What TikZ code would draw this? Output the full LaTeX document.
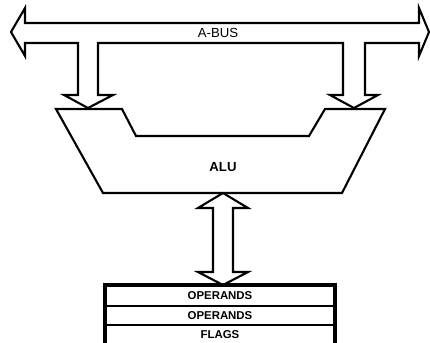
\documentclass[tikz,border=0pt]{standalone}
\usepackage{fontspec}
\setmainfont{Liberation Sans}
\usetikzlibrary{positioning}

\begin{document}
\begin{tikzpicture}[
  x=0.02cm, y=-0.02cm,
  outline/.style={draw, line width=1.2pt, line join=miter, fill=white},
  buslabel/.style={font=\fontsize{7.5}{8}\selectfont},
  unitlabel/.style={font=\fontsize{7.5}{8}\selectfont\bfseries},
  regtext/.style={font=\fontsize{6.5}{7}\selectfont\bfseries}
]
\useasboundingbox[fill=white] (0,0) rectangle (430,342);

% A-bus with its two branches into the ALU
\draw[outline] (11,32) -- (25,8) -- (25,23) -- (419,23) -- (419,8) -- (429,32)
  -- (419,56) -- (419,43) -- (365,43) -- (365,95) -- (378,95) -- (354,108)
  -- (330,95) -- (343,95) -- (343,43) -- (98,43) -- (98,95) -- (113,95)
  -- (88,108) -- (64,95) -- (78,95) -- (78,43) -- (25,43) -- (25,56) -- cycle;
\node[buslabel] (abus) at (218,33) {A-BUS};

% ALU
\draw[outline] (56,109) -- (122,109) -- (136,136) -- (309,136) -- (325,109)
  -- (385,109) -- (342,193) -- (103,193) -- cycle;
\node[unitlabel] (alu) at (223,167) {ALU};

% ALU <-> registers
\draw[outline] (223,193) -- (248,208) -- (233,208) -- (233,272) -- (248,272)
  -- (223,285) -- (198,272) -- (213,272) -- (213,208) -- (198,208) -- cycle;

% register file
\draw[line width=1.8pt] (105,343) -- (105,285) -- (335,285) -- (335,343);
\draw[line width=0.9pt] (105,306) -- (335,306);
\draw[line width=0.9pt] (105,325) -- (335,325);
\node[regtext] (ops1) at (220,296) {OPERANDS};
\node[regtext] (ops2) at (220,316) {OPERANDS};
\node[regtext] (flags) at (220,335) {FLAGS};
\end{tikzpicture}
\end{document}
